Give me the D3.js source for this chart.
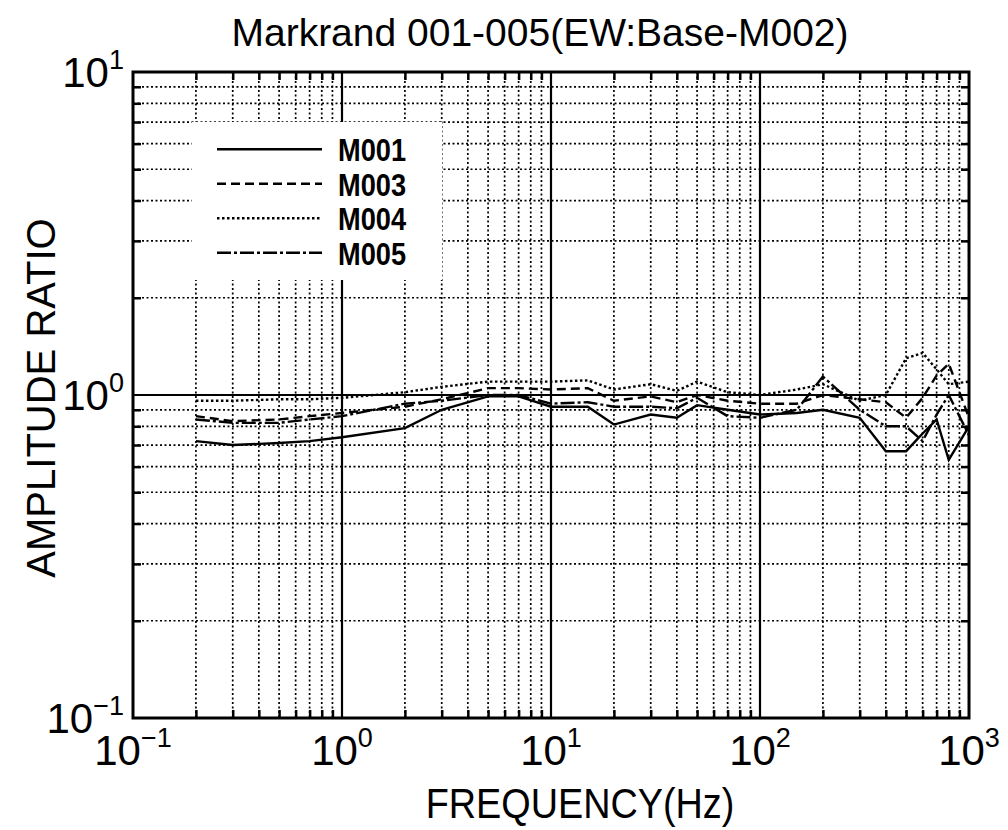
<!DOCTYPE html>
<html>
<head>
<meta charset="utf-8">
<script src="https://cdn.jsdelivr.net/npm/d3@7"></script>
<style>
  body { margin: 0; background: #fff; }
  svg { font-family: "Liberation Sans", Arial, sans-serif; }
</style>
</head>
<body>
<div id="chart"></div>
<script>
var width = 1008;
var height = 830;

// frequency points (Hz)
var freq = [0.2, 0.3, 0.5, 0.7, 1, 2, 3, 5, 7, 10, 15, 20, 30, 40, 50, 70, 100, 150, 200, 300, 400, 500, 600, 700, 800, 1000];
// amplitude ratios
var m001 = [0.72, 0.70, 0.71, 0.72, 0.74, 0.79, 0.90, 0.99, 0.99, 0.92, 0.92, 0.81, 0.87, 0.85, 0.93, 0.90, 0.87, 0.88, 0.90, 0.85, 0.67, 0.67, 0.76, 0.84, 0.63, 0.80];
var m003 = [0.86, 0.83, 0.84, 0.86, 0.88, 0.92, 0.97, 1.05, 1.05, 1.04, 1.05, 0.96, 0.99, 0.95, 1.00, 0.96, 0.94, 0.94, 1.00, 0.97, 0.95, 0.85, 0.98, 1.15, 1.25, 0.85];
var m004 = [0.96, 0.96, 0.97, 0.97, 0.98, 1.02, 1.06, 1.10, 1.10, 1.10, 1.11, 1.04, 1.08, 1.03, 1.10, 1.02, 1.00, 1.04, 1.08, 0.96, 1.00, 1.30, 1.35, 1.20, 1.08, 1.10];
var m005 = [0.84, 0.82, 0.82, 0.84, 0.86, 0.94, 0.96, 1.00, 1.00, 0.94, 0.95, 0.92, 0.92, 0.91, 0.98, 0.86, 0.85, 0.90, 1.14, 0.90, 0.80, 0.80, 0.72, 0.87, 1.00, 0.75];

var seriesNames = ["M001", "M003", "M004", "M005"];
var seriesValues = [m001, m003, m004, m005];
var seriesDash = ["none", "9,5", "2.5,2.5", "14,3,3,3"];

var xDecades = [0.1, 1, 10, 100, 1000];
var yDecades = [0.1, 1, 10];
var xExp = ["\u22121", "0", "1", "2", "3"];
var yExp = ["\u22121", "0", "1"];

var plot = {left: 133, right: 969, top: 72, bottom: 718};

var svg = d3.select("#chart").append("svg")
  .attr("width", width)
  .attr("height", height);

var x = d3.scaleLog().domain([0.1, 1000]).range([plot.left, plot.right]);
var y = d3.scaleLog().domain([0.1, 10]).range([plot.bottom, plot.top]);

// minor positions 2..9 of each decade
function minors(decades) {
  var out = [];
  for (var i = 0; i < decades.length - 1; i++) {
    for (var k = 2; k <= 9; k++) out.push(decades[i] * k);
  }
  return out;
}
var xMinor = minors(xDecades);
var yMinor = minors(yDecades);

// dotted grid
var grid = svg.append("g").attr("class", "grid");
grid.selectAll(".vminor").data(xMinor).enter().append("line")
  .attr("x1", d => x(d)).attr("x2", d => x(d))
  .attr("y1", plot.top).attr("y2", plot.bottom)
  .attr("stroke", "#000").attr("stroke-width", 1.7)
  .attr("stroke-dasharray", "2,2.5");
grid.selectAll(".hminor").data(yMinor).enter().append("line")
  .attr("y1", d => y(d)).attr("y2", d => y(d))
  .attr("x1", plot.left).attr("x2", plot.right)
  .attr("stroke", "#000").attr("stroke-width", 1.7)
  .attr("stroke-dasharray", "2,2.5");
// solid decade lines
grid.selectAll(".vmajor").data(xDecades.slice(1, -1)).enter().append("line")
  .attr("x1", d => x(d)).attr("x2", d => x(d))
  .attr("y1", plot.top).attr("y2", plot.bottom)
  .attr("stroke", "#000").attr("stroke-width", 2.2);
grid.selectAll(".hmajor").data(yDecades.slice(1, -1)).enter().append("line")
  .attr("y1", d => y(d)).attr("y2", d => y(d))
  .attr("x1", plot.left).attr("x2", plot.right)
  .attr("stroke", "#000").attr("stroke-width", 2.2);

// inward ticks on all four sides
var tickLen = 8;
var axB = d3.axisBottom(x).tickValues(xMinor).tickSize(-tickLen).tickFormat("");
var axT = d3.axisTop(x).tickValues(xMinor).tickSize(-tickLen).tickFormat("");
var axL = d3.axisLeft(y).tickValues(yMinor).tickSize(-tickLen).tickFormat("");
var axR = d3.axisRight(y).tickValues(yMinor).tickSize(-tickLen).tickFormat("");
svg.append("g").attr("transform", "translate(0," + plot.bottom + ")").call(axB);
svg.append("g").attr("transform", "translate(0," + plot.top + ")").call(axT);
svg.append("g").attr("transform", "translate(" + plot.left + ",0)").call(axL);
svg.append("g").attr("transform", "translate(" + plot.right + ",0)").call(axR);
svg.selectAll(".domain").remove();
svg.selectAll(".tick line").attr("stroke", "#000").attr("stroke-width", 2.5);

// data lines
var line = d3.line()
  .x((d, i) => x(freq[i]))
  .y(d => y(d));

svg.append("g").selectAll("path").data(seriesValues).enter().append("path")
  .attr("d", d => line(d))
  .attr("fill", "none")
  .attr("stroke", "#000")
  .attr("stroke-width", 2.4)
  .attr("stroke-dasharray", (d, i) => seriesDash[i]);

// legend box (blanks the grid)
var legend = svg.append("g").attr("class", "legend");
legend.append("rect")
  .attr("x", 192).attr("y", 122)
  .attr("width", 250).attr("height", 158)
  .attr("fill", "#fff");
var legendY = d3.scaleBand().domain(seriesNames).range([132, 270]);
legend.selectAll(".lg-line").data(seriesNames).enter().append("line")
  .attr("x1", 217).attr("x2", 322)
  .attr("y1", d => legendY(d) + legendY.bandwidth() / 2)
  .attr("y2", d => legendY(d) + legendY.bandwidth() / 2)
  .attr("stroke", "#000")
  .attr("stroke-width", 2.4)
  .attr("stroke-dasharray", (d, i) => seriesDash[i]);
legend.selectAll(".lg-text").data(seriesNames).enter().append("text")
  .attr("transform", d => "translate(338," + (legendY(d) + legendY.bandwidth() / 2 + 12) + ") scale(0.85,1)")
  .style("font-weight", "bold")
  .style("font-size", "32px")
  .text(d => d);

// frame
svg.append("rect")
  .attr("x", plot.left).attr("y", plot.top)
  .attr("width", plot.right - plot.left).attr("height", plot.bottom - plot.top)
  .attr("fill", "none").attr("stroke", "#000").attr("stroke-width", 3);

// tick labels 10^n
var xLab = svg.append("g").selectAll("text").data(xDecades).enter().append("text")
  .attr("x", d => x(d))
  .attr("y", plot.bottom + 47)
  .attr("text-anchor", "middle")
  .style("font-size", "42px");
xLab.append("tspan").text("10");
xLab.append("tspan").attr("dy", -18).style("font-size", "27px").text((d, i) => xExp[i]);

var yLab = svg.append("g").selectAll("text").data(yDecades).enter().append("text")
  .attr("x", 124)
  .attr("y", d => y(d) + 15)
  .attr("text-anchor", "end")
  .style("font-size", "42px");
yLab.append("tspan").text("10");
yLab.append("tspan").attr("dy", -18).style("font-size", "27px").text((d, i) => yExp[i]);

// titles
svg.append("text")
  .attr("x", 540).attr("y", 46)
  .attr("text-anchor", "middle")
  .style("font-size", "39px")
  .text("Markrand 001-005(EW:Base-M002)");

svg.append("text")
  .attr("transform", "translate(580,818) scale(0.9,1)")
  .attr("text-anchor", "middle")
  .style("font-size", "42px")
  .text("FREQUENCY(Hz)");

svg.append("text")
  .attr("transform", "translate(55,398) rotate(-90) scale(1,1)")
  .attr("text-anchor", "middle")
  .style("font-size", "40px")
  .text("AMPLITUDE RATIO");
</script>
</body>
</html>
